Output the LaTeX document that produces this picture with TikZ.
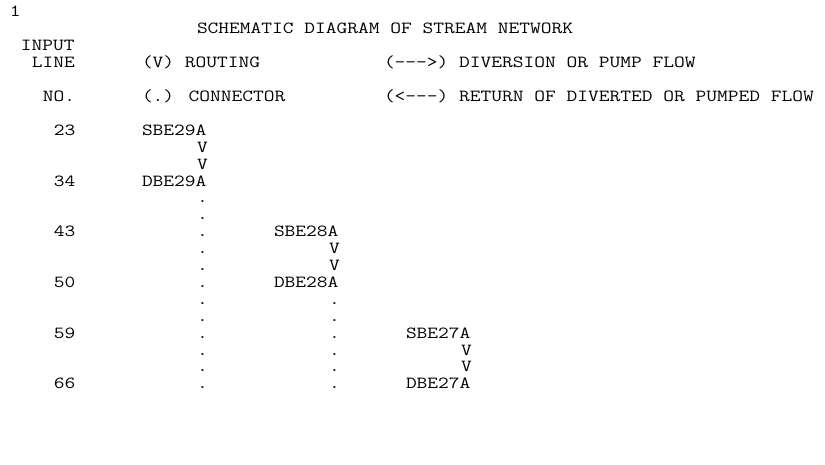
\documentclass[tikz,border=0pt]{standalone}
\usepackage{tikz}
\usetikzlibrary{positioning}

% stretch the typewriter face to the 11bp column of the listing
\newcommand{\hec}[1]{\scalebox{1.232}[1]{#1}}

\begin{document}
\begin{tikzpicture}[x=11bp, y=-16.9bp,
      txt/.style={anchor=base west, inner sep=0pt, outer sep=0pt,
                  font=\ttfamily\fontsize{17}{17}\selectfont}]

    \useasboundingbox (-0.909,-1.006) rectangle (74.091,26.509);

    % === header ===
    \node[txt] (pg)    at (0,0)  {\hec{1}};
    \node[txt] (title) at (17,1) {\hec{SCHEMATIC DIAGRAM OF STREAM NETWORK}};
    \node[txt] (inp)   at (1,2)  {\hec{INPUT}};
    \node[txt] (line)  at (2,3)  {\hec{LINE}};
    \node[txt] (rout)  at (12,3) {\hec{(V) ROUTING}};
    \node[txt] (div)   at (34,3) {\hec{(--->) DIVERSION OR PUMP FLOW}};
    \node[txt] (no)    at (3,5)  {\hec{NO.}};
    \node[txt] (conn)  at (12,5) {\hec{(.) CONNECTOR}};
    \node[txt] (ret)   at (34,5) {\hec{(<---) RETURN OF DIVERTED OR PUMPED FLOW}};

    % === input line numbers ===
    \node[txt] (n23) at (4,7)  {\hec{23}};
    \node[txt] (n34) at (4,10) {\hec{34}};
    \node[txt] (n43) at (4,13) {\hec{43}};
    \node[txt] (n50) at (4,16) {\hec{50}};
    \node[txt] (n59) at (4,19) {\hec{59}};
    \node[txt] (n66) at (4,22) {\hec{66}};

    % === BE29A ===
    \node[txt] (sbe29a) at (12,7)  {\hec{SBE29A}};
    \node[txt] (r29a1)  at (17,8)  {\hec{V}};
    \node[txt] (r29a2)  at (17,9)  {\hec{V}};
    \node[txt] (dbe29a) at (12,10) {\hec{DBE29A}};
    \foreach \r in {11,...,22}
      \node[txt] (c29a-\r) at (17,\r) {\hec{.}};

    % === BE28A ===
    \node[txt] (sbe28a) at (24,13) {\hec{SBE28A}};
    \node[txt] (r28a1)  at (29,14) {\hec{V}};
    \node[txt] (r28a2)  at (29,15) {\hec{V}};
    \node[txt] (dbe28a) at (24,16) {\hec{DBE28A}};
    \foreach \r in {17,...,22}
      \node[txt] (c28a-\r) at (29,\r) {\hec{.}};

    % === BE27A ===
    \node[txt] (sbe27a) at (36,19) {\hec{SBE27A}};
    \node[txt] (r27a1)  at (41,20) {\hec{V}};
    \node[txt] (r27a2)  at (41,21) {\hec{V}};
    \node[txt] (dbe27a) at (36,22) {\hec{DBE27A}};

\end{tikzpicture}
\end{document}
